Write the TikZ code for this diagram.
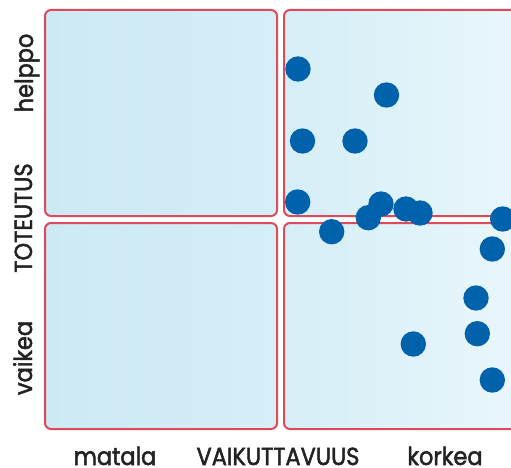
\documentclass[tikz,border=0pt]{standalone}
\usepackage{fontspec}
\usepackage{graphicx}
\setmainfont{Poppins}
\newfontfamily\lblfont{Poppins}[FakeBold=2]
\definecolor{boxred}{HTML}{DC4A5C}
\definecolor{dotblue}{HTML}{0062AA}
\definecolor{txt}{HTML}{222222}
\definecolor{bluea}{HTML}{CDEAF4}
\definecolor{blueb}{HTML}{D5EEF7}
\definecolor{bluec}{HTML}{D5EEF7}
\definecolor{blued}{HTML}{EAF7FB}
\newcommand{\tallt}[1]{\scalebox{1}[1.1]{#1}}
\tikzset{
  quad/.style={draw=boxred, line width=2pt, rounded corners=6pt},
  dot/.style={circle, fill=dotblue, inner sep=0pt, minimum size=25.4pt},
  lbl/.style={text=txt, font=\lblfont\fontsize{22.5}{22.5}\selectfont, inner sep=0pt, anchor=base, text depth=0pt},
}
\begin{document}
\begin{tikzpicture}[x=1pt,y=-1pt]
\useasboundingbox (0,0) rectangle (511,468);
\clip (0,0) rectangle (511,468);
\fill[white] (0,0) rectangle (511,468);
\draw[quad, left color=bluea, right color=blueb] (45,10) rectangle (277,216);
\draw[quad, left color=bluec, right color=blued] (284,10) rectangle (527,216);
\draw[quad, left color=bluea, right color=blueb] (45,223) rectangle (277,429);
\draw[quad, left color=bluec, right color=blued] (284,223) rectangle (527,429);
\node[dot] (d1) at (298,69) {};
\node[dot] (d2) at (386.5,95) {};
\node[dot] (d3) at (302.5,141) {};
\node[dot] (d4) at (355,141) {};
\node[dot] (d5) at (297.7,202) {};
\node[dot] (d6) at (331.7,231.7) {};
\node[dot] (d7) at (381,204) {};
\node[dot] (d8) at (368.3,217.7) {};
\node[dot] (d9) at (406,209) {};
\node[dot] (d10) at (420,213) {};
\node[dot] (d11) at (502.7,219) {};
\node[dot] (d12) at (492.3,249) {};
\node[dot] (d13) at (476,298) {};
\node[dot] (d14) at (477.3,333.7) {};
\node[dot] (d15) at (413.3,344) {};
\node[dot] (d16) at (492.3,380) {};
\node[lbl] (xl) at (115,465) {\tallt{matala}};
\node[lbl] (xm) at (278,465) {\tallt{VAIKUTTAVUUS}};
\node[lbl] (xh) at (445,465) {\tallt{korkea}};
\node[lbl, rotate=90] (yh) at (33,73) {\tallt{helppo}};
\node[lbl, rotate=90] (ym) at (32,218) {\tallt{TOTEUTUS}};
\node[lbl, rotate=90] (yl) at (32,358) {\tallt{vaikea}};
\end{tikzpicture}
\end{document}
